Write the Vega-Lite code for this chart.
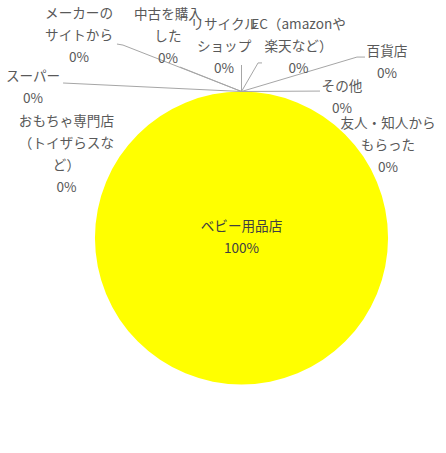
{
  "$schema": "https://vega.github.io/schema/vega-lite/v6.json",
  "width": 446,
  "height": 453,
  "padding": 0,
  "autosize": {"type": "fit", "contains": "padding"},
  "background": "white",
  "config": {"view": {"stroke": null}},
  "datasets": {
    "shops": [
      {"name": "ベビー用品店", "label": "ベビー用品店", "value": 100, "labelX": 0, "labelY": 7.5},
      {"name": "おもちゃ専門店（トイザらスなど）", "label": "おもちゃ専門店\n（トイザらスな\nど）", "value": 0, "labelX": -119.5, "labelY": 79.2},
      {"name": "スーパー", "label": "スーパー", "value": 0, "labelX": -142.3, "labelY": 109.9},
      {"name": "メーカーのサイトから", "label": "メーカーの\nサイトから", "value": 0, "labelX": -110.9, "labelY": 152.9},
      {"name": "中古を購入した", "label": "中古を購入\nした", "value": 0, "labelX": -50.2, "labelY": 152.2},
      {"name": "リサイクルショップ", "label": "リサイクル\nショップ", "value": 0, "labelX": -11.9, "labelY": 145.4},
      {"name": "EC（amazonや楽天など）", "label": "EC（amazonや\n楽天など）", "value": 0, "labelX": 38.9, "labelY": 145.4},
      {"name": "百貨店", "label": "百貨店", "value": 0, "labelX": 99.3, "labelY": 127.0},
      {"name": "その他", "label": "その他", "value": 0, "labelX": 68.6, "labelY": 103.1},
      {"name": "友人・知人からもらった", "label": "友人・知人から\nもらった", "value": 0, "labelX": 100.0, "labelY": 77.8}
    ],
    "leaders": [
      {"name": "メーカーのサイトから", "seq": 1, "lx": -85.0, "ly": 132.4},
      {"name": "メーカーのサイトから", "seq": 2, "lx": -80.9, "ly": 131.7},
      {"name": "メーカーのサイトから", "seq": 3, "lx": 0, "ly": 100},
      {"name": "中古を購入した", "seq": 1, "lx": -42.0, "ly": 116.7},
      {"name": "中古を購入した", "seq": 2, "lx": 0, "ly": 100},
      {"name": "スーパー", "seq": 1, "lx": -121.8, "ly": 105.8},
      {"name": "スーパー", "seq": 2, "lx": 0, "ly": 100},
      {"name": "リサイクルショップ", "seq": 1, "lx": 0, "ly": 118.1},
      {"name": "リサイクルショップ", "seq": 2, "lx": 0, "ly": 100},
      {"name": "EC（amazonや楽天など）", "seq": 1, "lx": 14.0, "ly": 119.5},
      {"name": "EC（amazonや楽天など）", "seq": 2, "lx": 11.3, "ly": 119.5},
      {"name": "EC（amazonや楽天など）", "seq": 3, "lx": 0, "ly": 100},
      {"name": "百貨店", "seq": 1, "lx": 84.3, "ly": 123.5},
      {"name": "百貨店", "seq": 2, "lx": 78.8, "ly": 123.5},
      {"name": "百貨店", "seq": 3, "lx": 0, "ly": 100},
      {"name": "その他", "seq": 1, "lx": 53.6, "ly": 100.3},
      {"name": "その他", "seq": 2, "lx": 0, "ly": 100}
    ]
  },
  "layer": [
    {
      "data": {"name": "shops"},
      "mark": {"type": "arc", "outerRadius": 146.5, "fill": "#FFFF00"},
      "encoding": {
        "theta": {"field": "value", "type": "quantitative", "stack": true},
        "order": {"field": "value", "sort": "descending"},
        "x": {"datum": 0, "type": "quantitative", "scale": {"domain": [-164.85, 139.59], "nice": false, "zero": false}, "axis": null},
        "y": {"datum": 0, "type": "quantitative", "scale": {"domain": [-146.76, 162.46], "nice": false, "zero": false}, "axis": null}
      }
    },
    {
      "data": {"name": "leaders"},
      "mark": {"type": "line", "color": "#A6A6A6", "strokeWidth": 1},
      "encoding": {
        "x": {"field": "lx", "type": "quantitative", "axis": null},
        "y": {"field": "ly", "type": "quantitative", "axis": null},
        "detail": {"field": "name"},
        "order": {"field": "seq"}
      }
    },
    {
      "data": {"name": "shops"},
      "transform": [
        {"calculate": "datum.label + '\\n' + datum.value + '%'", "as": "text"}
      ],
      "mark": {
        "type": "text",
        "font": "Noto Sans CJK JP",
        "fontSize": 13.6,
        "lineBreak": "\n",
        "lineHeight": 22,
        "align": "center",
        "baseline": "middle"
      },
      "encoding": {
        "x": {"field": "labelX", "type": "quantitative", "axis": null},
        "y": {"field": "labelY", "type": "quantitative", "axis": null},
        "text": {"field": "text"},
        "color": {
          "condition": {"test": "datum.value > 0", "value": "#404040"},
          "value": "#595959"
        }
      }
    }
  ]
}
